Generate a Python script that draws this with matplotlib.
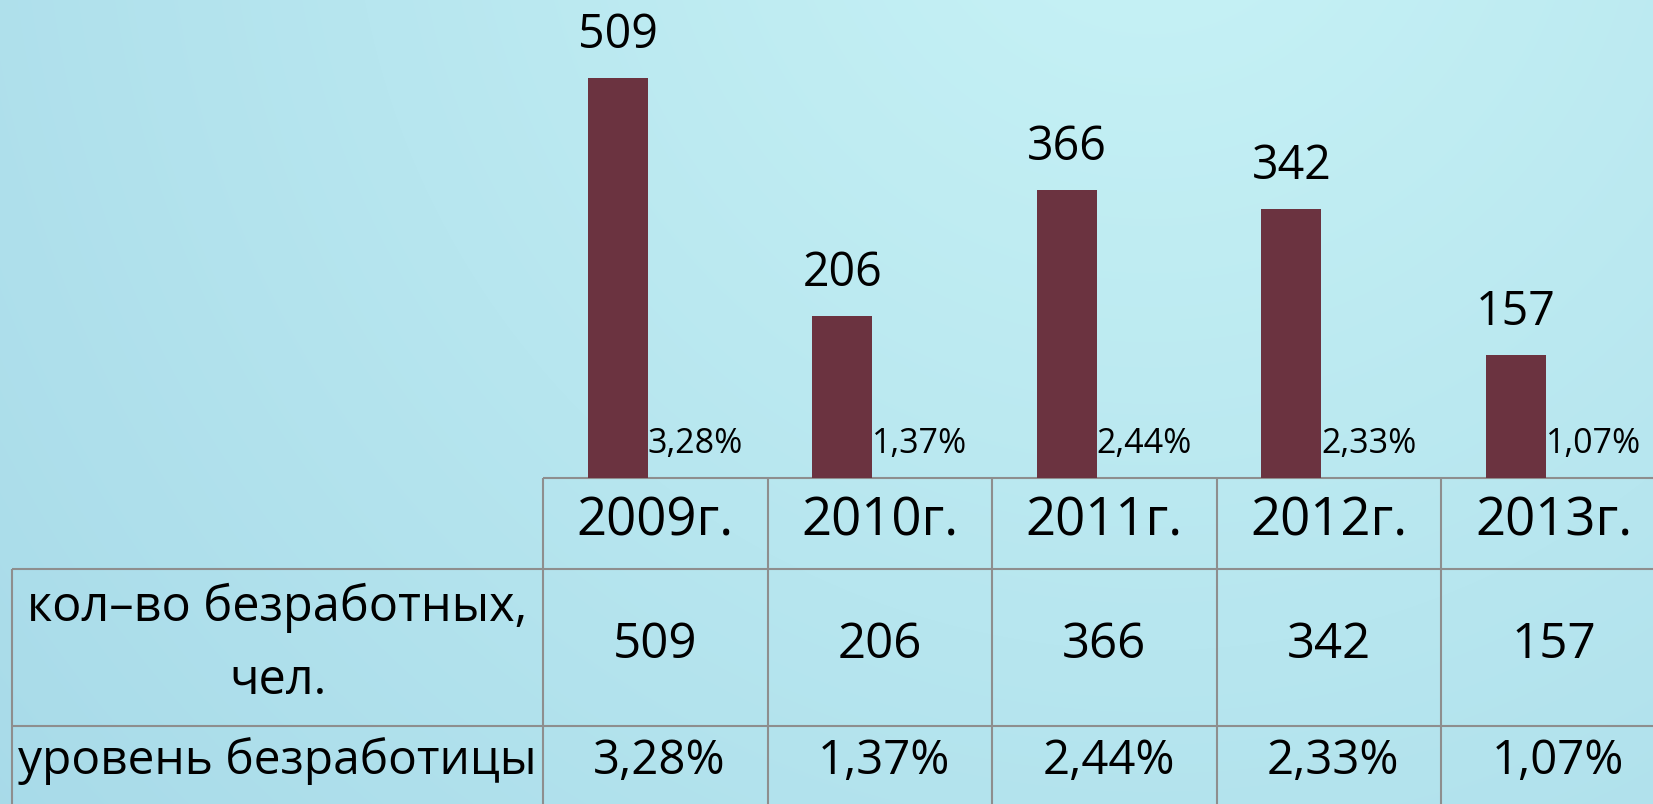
import numpy as np
import matplotlib.pyplot as plt
import matplotlib.colors as mcolors

# data
years = ["2009г.", "2010г.", "2011г.", "2012г.", "2013г."]
unemployed = [509, 206, 366, 342, 157]
rate_labels = ["3,28%", "1,37%", "2,44%", "2,33%", "1,07%"]
count_label = ["кол–во безработных,", "чел."]
rate_label = "уровень безработицы"

plt.rcParams['font.family'] = ['Open Sans', 'DejaVu Sans']

W, H = 1653, 804
fig = plt.figure(figsize=((W + 0.2) / 100, (H + 0.2) / 100), dpi=100)

# background gradient, pixel coordinates
bg = fig.add_axes([0, 0, 1, 1])
yy, xx = np.mgrid[0:H, 0:W]
d = np.clip(np.hypot(xx - 1150, yy + 150) / 1600, 0, 1)
c0 = np.array(mcolors.to_rgb('#c8f3f6'))
c1 = np.array(mcolors.to_rgb('#a6d9e8'))
bg.imshow(c0 + (c1 - c0) * d[..., None], extent=(0, W, H, 0), aspect='auto')
bg.set_xlim(0, W)
bg.set_ylim(H, 0)
bg.axis('off')

# table layout (pixels)
x0, cw = 543, 224.5
lab_left = 12
y_top, y_head, y_row = 478, 569, 726
edges = x0 + cw * np.arange(len(years) + 1)
grid = dict(color='#8e8e8e', lw=1.5, solid_capstyle='butt')
bg.plot([x0, W], [y_top, y_top], **grid)
bg.plot([lab_left, W], [y_head, y_head], **grid)
bg.plot([lab_left, W], [y_row, y_row], **grid)
bg.plot([lab_left, lab_left], [y_head, H], **grid)
for e in edges[:-1]:
    bg.plot([e, e], [y_top, H], **grid)

centers = x0 + cw * (np.arange(len(years)) + 0.5)
for cx, yr, n, r in zip(centers, years, unemployed, rate_labels):
    bg.text(cx, 535, yr, ha='center', va='baseline', fontsize=38)
    bg.text(cx, 658, str(n), ha='center', va='baseline', fontsize=35.5)
    bg.text(cx + 4, 774, r, ha='center', va='baseline', fontsize=34)

lab_cx = (lab_left + x0) / 2
bg.text(lab_cx, 621, count_label[0], ha='center', va='baseline', fontsize=35)
bg.text(lab_cx, 694, count_label[1], ha='center', va='baseline', fontsize=35)
bg.text(lab_cx, 774, rate_label, ha='center', va='baseline', fontsize=34.5)

# bars
px_per_unit = 400 / 509
ax = fig.add_axes([x0 / W, 1 - y_top / H, 5 * cw / W, y_top / H])
ax.set_xlim(0, 5)
ax.set_ylim(0, y_top / px_per_unit)
ax.axis('off')
pos = np.arange(len(years)) + 0.333
bw = 0.267
ax.bar(pos, unemployed, width=bw, color='#6b3340')
for p, n, r in zip(pos, unemployed, rate_labels):
    ax.annotate(str(n), (p, n), xytext=(0, 21.6), textcoords='offset points',
                ha='center', va='baseline', fontsize=33.5, annotation_clip=False)
    ax.annotate(r, (p + bw / 2, 0), xytext=(0, 18), textcoords='offset points',
                ha='left', va='baseline', fontsize=24.5, annotation_clip=False)

fig.savefig("out.png", dpi=100)
